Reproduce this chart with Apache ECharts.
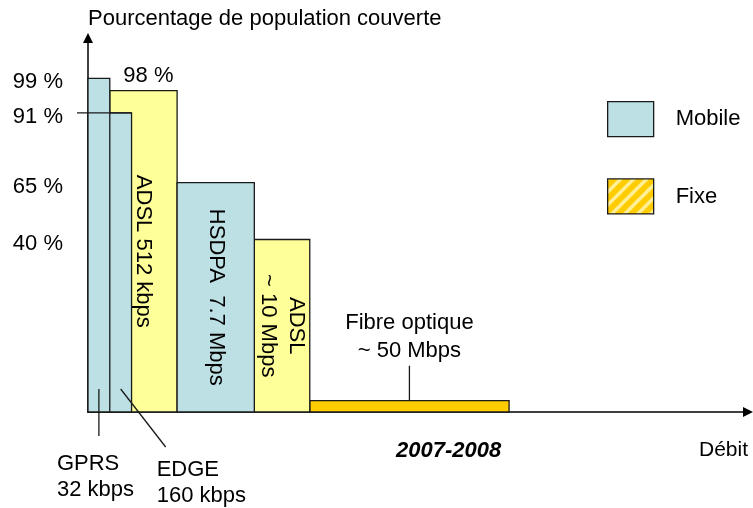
<!DOCTYPE html>
<html>
<head>
<meta charset="utf-8">
<title>Couverture et débit</title>
<script src="https://cdn.jsdelivr.net/npm/echarts@6/dist/echarts.min.js"></script>
<style>
  html, body { margin: 0; padding: 0; background: #fff; }
  #chart { width: 753px; height: 508px; }
</style>
</head>
<body>
<div id="chart"></div>
<script>
// technologies, left to right along the (schematic) débit axis
const techLabels = ['GPRS\n32 kbps', 'EDGE\n160 kbps', 'ADSL 512 kbps', 'HSDPA  7.7 Mbps', 'ADSL\n~ 10 Mbps', 'Fibre optique\n~ 50 Mbps'];
const networks = ['Mobile', 'Mobile', 'Fixe', 'Mobile', 'Fixe', 'Fixe'];
const coverageLabels = ['99 %', '91 %', '98 %', '65 %', '40 %', ''];
// extent of each bar on the débit axis (schematic units, 0-100)
const debitStart = [0, 0, 3.3, 13.5, 25.2, 33.6];
const debitEnd = [3.3, 6.6, 13.5, 25.2, 33.6, 63.8];
// bar heights as drawn on the vertical axis (the picture's own scale)
const drawnHeight = [99, 88.8, 95.4, 68.1, 51.2, 3.35];

// where each name / coverage text is put
const namePlacement = ['below', 'below', 'inside', 'inside', 'inside', 'above'];
const coveragePlacement = ['axis', 'axis', 'top', 'axis', 'axis', 'none'];
const axisLeader = [false, true, false, false, false, false];
const belowCallout = {
  0: { anchor: 0.5, end: [0, 24], text: [-42, 39] },
  1: { anchor: 0.75, end: [45, 35], text: [36, 45] }
};

const FONT = '"Liberation Sans", Arial, Helvetica, sans-serif';
const LINE = '#1a1a1a';
const colours = { mobile: '#BCE0E4', adsl: '#FFFF99', fibre: '#FFCC00' };

function fillFor(i) {
  if (networks[i] === 'Mobile') return colours.mobile;
  return techLabels[i].indexOf('Fibre') === 0 ? colours.fibre : colours.adsl;
}

// hatched swatch for the "Fixe" legend entry
function fixePattern() {
  const s = 13;
  const c = document.createElement('canvas');
  c.width = s; c.height = s;
  const ctx = c.getContext('2d');
  ctx.fillStyle = colours.fibre;
  ctx.fillRect(0, 0, s, s);
  ctx.strokeStyle = '#FFF09A';
  ctx.lineWidth = 3.4;
  [[-s, s, s, -s], [0, s, s, 0], [0, 2 * s, 2 * s, 0]].forEach(function (p) {
    ctx.beginPath(); ctx.moveTo(p[0], p[1]); ctx.lineTo(p[2], p[3]); ctx.stroke();
  });
  return { image: c, repeat: 'repeat' };
}

function txt(text, x, y, style, extra) {
  return Object.assign({
    type: 'text', x: x, y: y, z2: 500,
    style: Object.assign({ text: text, fill: '#000', fontSize: 22, fontFamily: FONT, lineHeight: 27 }, style)
  }, extra || {});
}
function seg(x1, y1, x2, y2) {
  return { type: 'line', z2: 400, shape: { x1: x1, y1: y1, x2: x2, y2: y2 }, style: { stroke: LINE, lineWidth: 1.3 } };
}

function renderBar(params, api) {
  const i = api.value(3);
  const base = api.coord([api.value(0), 0]);
  const top = api.coord([api.value(1), api.value(2)]);
  const w = top[0] - base[0];
  const h = base[1] - top[1];
  const cx = base[0] + w / 2;
  const axisX = api.coord([0, 0])[0];
  // narrower bars sit on top of wider ones
  const els = [{
    type: 'rect', z2: Math.round(300 - w),
    shape: { x: base[0], y: top[1], width: w, height: h },
    style: { fill: fillFor(i), stroke: LINE, lineWidth: 1.3 }
  }];

  const place = namePlacement[i];
  if (place === 'inside') {
    els.push(txt(techLabels[i], cx, top[1] + h / 2, { align: 'center', verticalAlign: 'middle', lineHeight: 28 }, { rotation: -Math.PI / 2 }));
  } else if (place === 'above') {
    els.push(seg(cx, top[1], cx, top[1] - 35));
    els.push(txt(techLabels[i], cx, top[1] - 36, { align: 'center', verticalAlign: 'bottom', lineHeight: 28 }));
  } else if (place === 'below') {
    const c = belowCallout[i];
    const ax = base[0] + w * c.anchor;
    els.push(seg(ax, base[1] - 23, ax + c.end[0], base[1] + c.end[1]));
    els.push(txt(techLabels[i], ax + c.text[0], base[1] + c.text[1], { align: 'left', verticalAlign: 'top', lineHeight: 26 }));
  }

  if (coveragePlacement[i] === 'axis') {
    els.push(txt(coverageLabels[i], axisX - 25, top[1] + 4, { align: 'right', verticalAlign: 'middle' }));
    if (axisLeader[i]) els.push(seg(axisX - 11, top[1], top[0], top[1]));
  } else if (coveragePlacement[i] === 'top') {
    els.push(txt(coverageLabels[i], cx + 5, top[1] - 1, { align: 'center', verticalAlign: 'bottom' }));
  }
  return { type: 'group', children: els };
}

function seriesData(name) {
  const out = [];
  networks.forEach(function (n, i) {
    if (n === name) out.push([debitStart[i], debitEnd[i], drawnHeight[i], i]);
  });
  return out;
}

const pattern = fixePattern();
const chart = echarts.init(document.getElementById('chart'));

chart.setOption({
  animation: false,
  backgroundColor: '#fff',
  textStyle: { fontFamily: FONT },
  title: [
    {
      text: '2007-2008', left: 396, top: 440, padding: 0,
      textStyle: { fontSize: 22, fontStyle: 'italic', fontWeight: 'bold', fontFamily: FONT, color: '#000' }
    },
    {
      text: 'Débit', left: 699, top: 440, padding: 0,
      textStyle: { fontSize: 21, fontWeight: 'normal', fontFamily: FONT, color: '#000' }
    }
  ],
  legend: {
    orient: 'vertical', left: 607, top: 101, padding: 0,
    itemWidth: 46, itemHeight: 35, itemGap: 41, icon: 'rect',
    selectedMode: false,
    textStyle: { fontSize: 22, fontFamily: FONT, color: '#000', padding: [0, 0, 0, 17] },
    data: [
      { name: 'Mobile', itemStyle: { color: colours.mobile, borderColor: LINE, borderWidth: 1.3 } },
      { name: 'Fixe', itemStyle: { color: pattern, borderColor: LINE, borderWidth: 1.3 } }
    ]
  },
  grid: { left: 88, right: 5, top: 38, bottom: 96 },
  xAxis: {
    type: 'value', min: 0, max: 100,
    axisLine: { show: true, symbol: ['none', 'triangle'], symbolSize: [10, 10], lineStyle: { color: '#000', width: 1.5 } },
    axisTick: { show: false }, axisLabel: { show: false }, splitLine: { show: false }
  },
  yAxis: {
    type: 'value', min: 0, max: 111,
    name: 'Pourcentage de population couverte', nameLocation: 'end', nameGap: 8,
    nameTextStyle: { fontSize: 22, fontFamily: FONT, color: '#000', align: 'left' },
    axisLine: { show: true, symbol: ['none', 'triangle'], symbolSize: [10, 10], lineStyle: { color: '#000', width: 1.5 } },
    axisTick: { show: false }, axisLabel: { show: false }, splitLine: { show: false }
  },
  series: [
    {
      name: 'Fixe', type: 'custom', z: 2, clip: false,
      itemStyle: { color: pattern },
      encode: { x: [0, 1], y: 2 },
      renderItem: renderBar,
      data: seriesData('Fixe')
    },
    {
      name: 'Mobile', type: 'custom', z: 3, clip: false,
      itemStyle: { color: colours.mobile },
      encode: { x: [0, 1], y: 2 },
      renderItem: renderBar,
      data: seriesData('Mobile')
    }
  ]
});
</script>
</body>
</html>
